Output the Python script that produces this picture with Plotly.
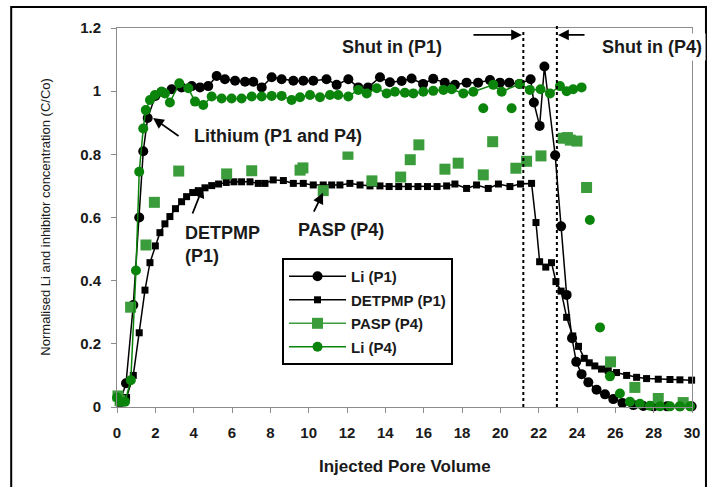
import plotly.graph_objects as go

# ---------------- data ----------------
li_p1_x = [0.16, 0.47, 0.85, 1.16, 1.37, 1.6, 2.0, 2.33, 2.85, 3.37, 3.9, 4.33, 4.76, 5.2, 5.63,
           6.16, 6.68, 7.11, 7.55, 8.07, 8.59, 9.2, 9.72, 10.24, 10.93, 11.46, 12.07, 12.59, 13.1,
           13.72, 14.24, 14.85, 15.37, 15.97, 16.5, 17.1, 17.63, 18.24, 18.84, 19.46, 19.98, 20.47,
           21.0, 21.58, 21.75, 22.05, 22.3, 22.86, 23.17, 23.46, 23.74, 23.96, 24.24, 24.59, 25.02,
           25.46, 25.89, 26.37, 26.94, 27.46, 28.0, 28.7, 29.37, 29.98]
li_p1_y = [0.017, 0.075, 0.323, 0.60, 0.81, 0.915, 0.985, 0.998, 1.006, 1.012, 1.016, 1.012, 1.016,
           1.048, 1.038, 1.033, 1.03, 1.03, 1.012, 1.044, 1.038, 1.033, 1.033, 1.033, 1.038, 1.02,
           1.038, 1.012, 1.012, 1.044, 1.028, 1.032, 1.04, 1.023, 1.039, 1.027, 1.02, 1.027, 1.027,
           1.035, 1.027, 1.027, 1.023, 1.038, 0.964, 0.89, 1.078, 0.797, 0.572, 0.355, 0.218, 0.143,
           0.104, 0.078, 0.055, 0.04, 0.025, 0.013, 0.006, 0.003, 0.002, 0.002, 0.002, 0.002]

detpmp_x = [0.16, 0.5, 0.85, 1.16, 1.46, 1.72, 2.0, 2.24, 2.5, 2.76, 3.05, 3.37, 3.63, 3.95, 4.24,
            4.59, 4.94, 5.3, 5.7, 6.1, 6.5, 6.94, 7.37, 7.72, 8.15, 8.68, 9.2, 9.72, 10.24, 10.76,
            11.2, 11.63, 12.15, 12.68, 13.2, 13.72, 14.2, 14.7, 15.2, 15.7, 16.2, 16.7, 17.2, 17.63,
            18.24, 18.76, 19.37, 19.9, 20.5, 21.05, 21.63, 21.86, 22.05, 22.37, 22.67, 22.9, 23.17,
            23.46, 23.78, 24.08, 24.38, 24.64, 24.93, 25.28, 25.63, 26.06, 26.59, 27.11, 27.63,
            28.24, 28.85, 29.37, 29.98]
detpmp_y = [0.012, 0.03, 0.10, 0.235, 0.37, 0.457, 0.51, 0.552, 0.58, 0.603, 0.628, 0.65, 0.666,
            0.679, 0.685, 0.694, 0.701, 0.706, 0.711, 0.713, 0.713, 0.713, 0.708, 0.708, 0.719,
            0.717, 0.708, 0.708, 0.703, 0.703, 0.703, 0.703, 0.708, 0.703, 0.70, 0.70, 0.698, 0.698,
            0.698, 0.698, 0.698, 0.698, 0.70, 0.706, 0.692, 0.703, 0.692, 0.706, 0.698, 0.706, 0.708,
            0.584, 0.46, 0.443, 0.457, 0.397, 0.367, 0.284, 0.225, 0.192, 0.154, 0.14, 0.13, 0.12,
            0.115, 0.109, 0.10, 0.094, 0.09, 0.088, 0.087, 0.086, 0.085]

pasp_x = [0.05, 0.16, 0.71, 1.51, 1.95, 3.22, 5.72, 7.03, 9.55, 9.7, 10.76, 12.05, 13.3, 14.8,
          15.3, 15.75, 17.11, 17.8, 19.11, 19.6, 20.81, 21.37, 22.12, 23.28, 23.5, 23.65, 24.0,
          24.5, 25.75, 27.02, 28.24, 29.54]
pasp_y = [0.035, 0.02, 0.316, 0.513, 0.648, 0.747, 0.738, 0.748, 0.75, 0.757, 0.685, 0.80, 0.716,
          0.728, 0.783, 0.83, 0.753, 0.772, 0.735, 0.84, 0.756, 0.778, 0.795, 0.851, 0.853, 0.845,
          0.842, 0.695, 0.143, 0.062, 0.027, 0.014]

li_p4_x = [0.0, 0.16, 0.42, 0.72, 0.99, 1.16, 1.37, 1.5, 1.72, 1.98, 2.33, 2.5, 2.76, 3.25, 3.72,
           4.07, 4.5, 4.94, 5.46, 5.98, 6.5, 7.03, 7.55, 8.07, 8.59, 9.11, 9.55, 10.07, 10.59,
           11.11, 11.54, 12.07, 12.59, 13.03, 13.55, 14.07, 14.5, 15.02, 15.46, 15.98, 16.5, 17.03,
           17.46, 18.07, 18.59, 19.63, 20.07, 21.02, 21.54, 22.1, 22.59, 23.11, 23.46, 23.8, 24.24]
li_p4_y = [0.03, 0.017, 0.017, 0.085, 0.432, 0.745, 0.882, 0.94, 0.972, 0.988, 0.998, 0.993, 0.964,
           1.025, 1.009, 0.967, 0.956, 0.983, 0.977, 0.977, 0.977, 0.983, 0.983, 0.985, 0.985,
           0.972, 0.981, 0.988, 0.981, 0.988, 0.988, 0.983, 1.004, 0.993, 1.009, 0.993, 0.998,
           0.995, 0.993, 0.998, 1.001, 1.004, 1.006, 0.993, 0.998, 1.02, 0.998, 1.023, 1.004, 1.006,
           0.993, 1.016, 1.0, 1.006, 1.012]
# Li (P4) points that are not joined by the line in the reference
li_p4_free_x = [19.11, 20.59, 24.67, 25.2, 25.72, 26.24, 26.76, 27.28, 27.8, 28.33, 28.85, 29.37, 29.9]
li_p4_free_y = [0.946, 0.946, 0.592, 0.252, 0.097, 0.043, 0.017, 0.01, 0.004, 0.002, 0.002, 0.002, 0.002]

shut_in_p1 = 21.2
shut_in_p4 = 22.95

x_ticks = list(range(0, 31, 2))
y_ticks = [0, 0.2, 0.4, 0.6, 0.8, 1.0, 1.2]
y_tick_text = ["0", "0.2", "0.4", "0.6", "0.8", "1", "1.2"]

# ---------------- figure ----------------
FONT = "Liberation Sans, Arial, sans-serif"
BLACK = "#000000"
TXT = "#1a1a1a"
GREEN_LI = "#0b840b"
GREEN_PASP = "#3b9c3b"

fig = go.Figure()

fig.add_trace(go.Scatter(x=li_p1_x, y=li_p1_y, name="Li (P1)", mode="lines+markers",
                         line=dict(color=BLACK, width=1.5),
                         marker=dict(symbol="circle", size=10, color=BLACK),
                         legendgroup="a", cliponaxis=False))
fig.add_trace(go.Scatter(x=detpmp_x, y=detpmp_y, name="DETPMP (P1)", mode="lines+markers",
                         line=dict(color=BLACK, width=1.5),
                         marker=dict(symbol="square", size=7, color=BLACK),
                         legendgroup="b", cliponaxis=False))
fig.add_trace(go.Scatter(x=pasp_x, y=pasp_y, name="PASP (P4)", mode="markers",
                         marker=dict(symbol="square", size=11, color=GREEN_PASP),
                         legendgroup="c", showlegend=False, cliponaxis=False))
fig.add_trace(go.Scatter(x=[None], y=[None], name="PASP (P4)", mode="lines+markers",
                         line=dict(color=GREEN_PASP, width=1.5),
                         marker=dict(symbol="square", size=11, color=GREEN_PASP),
                         legendgroup="c"))
fig.add_trace(go.Scatter(x=li_p4_x, y=li_p4_y, name="Li (P4)", mode="lines+markers",
                         line=dict(color=GREEN_LI, width=1.5),
                         marker=dict(symbol="circle", size=10, color=GREEN_LI),
                         legendgroup="d", cliponaxis=False))
fig.add_trace(go.Scatter(x=li_p4_free_x, y=li_p4_free_y, name="Li (P4)", mode="markers",
                         marker=dict(symbol="circle", size=10, color=GREEN_LI),
                         legendgroup="d", showlegend=False, cliponaxis=False))

axis_common = dict(showgrid=False, zeroline=False, showline=True, linecolor="#8c8c8c",
                   linewidth=1, mirror=True, ticks="outside", ticklen=5, tickcolor="#8c8c8c",
                   tickfont=dict(family=FONT, size=15, color=TXT, weight="bold"))

fig.update_layout(
    width=713, height=487,
    margin=dict(l=117, r=21, t=28, b=80),
    paper_bgcolor="white", plot_bgcolor="white",
    font=dict(family=FONT, color=TXT),
    xaxis=dict(range=[0, 30], tickvals=x_ticks, ticklabelstandoff=7, **axis_common),
    yaxis=dict(range=[0, 1.2], tickvals=y_ticks, ticktext=y_tick_text,
               ticklabelstandoff=7, **axis_common),
    showlegend=True,
    legend=dict(x=0.287, y=0.393, xanchor="left", yanchor="top", bgcolor="white",
                bordercolor=BLACK, borderwidth=2, traceorder="grouped", tracegroupgap=1,
                itemwidth=57, font=dict(family=FONT, size=15, color=TXT, weight="bold")),
)

# outer frame
fig.add_shape(type="rect", xref="paper", yref="paper", x0=-0.184, x1=1.0243, y0=-0.26, y1=1.0554,
              line=dict(color=BLACK, width=2), fillcolor="rgba(0,0,0,0)", layer="above")

# shut-in dotted lines
fig.add_shape(type="line", xref="x", yref="paper", x0=shut_in_p1, x1=shut_in_p1, y0=0, y1=0.995,
              line=dict(color=BLACK, width=2, dash="dot"))
fig.add_shape(type="line", xref="x", yref="paper", x0=shut_in_p4, x1=shut_in_p4, y0=0, y1=1.008,
              line=dict(color=BLACK, width=2, dash="dot"))

txt = dict(family=FONT, size=18, color=TXT, weight="bold")

# axis titles
fig.add_annotation(xref="paper", yref="paper", x=-0.125, y=0.5, xanchor="center", yanchor="middle",
                   text="Normalised Li and inhibitor concentration (C/Co)",
                   textangle=-90, showarrow=False, font=dict(family=FONT, size=13, color=TXT))
fig.add_annotation(xref="paper", yref="paper", x=0.5, y=-0.158, xanchor="center", yanchor="middle",
                   text="Injected Pore Volume",
                   showarrow=False, font=dict(family=FONT, size=17, color=TXT, weight="bold"))

# text labels
fig.add_annotation(x=14.35, y=1.14, text="Shut in (P1)", showarrow=False, font=txt)
fig.add_annotation(x=27.91, y=1.14, text="Shut in (P4)", showarrow=False, font=txt,
                   bgcolor="white", borderpad=3)
fig.add_annotation(x=8.4, y=0.858, text="Lithium (P1 and P4)", showarrow=False, font=txt,
                   bgcolor="white", borderpad=5)
fig.add_annotation(x=3.44, y=0.513, text="DETPMP<br>(P1)", showarrow=False, font=txt,
                   xanchor="left", align="left")
fig.add_annotation(x=11.69, y=0.56, text="PASP (P4)", showarrow=False, font=txt)

# arrows
arrow = dict(showarrow=True, arrowhead=2, arrowsize=1.2, arrowwidth=1.8, arrowcolor=BLACK,
             axref="x", ayref="y", text="")
fig.add_annotation(x=1.88, y=0.915, ax=3.29, ay=0.855, **arrow)
fig.add_annotation(x=4.49, y=0.697, ax=3.91, ay=0.608, **arrow)
fig.add_annotation(x=10.75, y=0.678, ax=10.23, ay=0.614, **arrow)
fig.add_annotation(x=21.13, y=1.178, ax=18.52, ay=1.178, **arrow)
fig.add_annotation(x=23.01, y=1.178, ax=24.47, ay=1.178, **arrow)

fig.write_html("out.html")
